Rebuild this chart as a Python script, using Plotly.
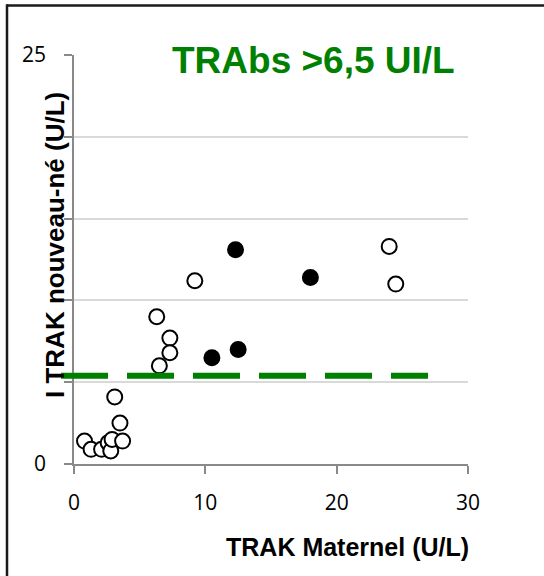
import plotly.graph_objects as go

# Data
x_open = [0.8, 1.3, 2.1, 2.6, 2.8, 2.9, 3.7, 3.5, 3.1, 6.3, 6.5, 7.3, 7.3, 9.2, 24.0, 24.5]
y_open = [1.4, 0.9, 0.9, 1.3, 0.8, 1.5, 1.4, 2.5, 4.1, 9.0, 6.0, 7.7, 6.8, 11.2, 13.3, 11.0]
x_filled = [10.5, 12.3, 12.5, 18.0]
y_filled = [6.5, 13.1, 7.0, 11.4]
seuil = 5.4
x_ticks = [0, 10, 20, 30]
y_ticks = [0, 5, 10, 15, 20, 25]
y_ticktext = ["0", "", "", "", "", "25"]

title_text = "TRAbs >6,5 UI/L"
x_title = "TRAK Maternel (U/L)"
y_title = "I TRAK nouveau-né (U/L)"

fig = go.Figure()
fig.add_trace(go.Scatter(
    x=x_open, y=y_open, mode="markers",
    marker=dict(size=15, color="white", line=dict(color="black", width=2)),
    showlegend=False, cliponaxis=False))
fig.add_trace(go.Scatter(
    x=x_filled, y=y_filled, mode="markers",
    marker=dict(size=15, color="black", line=dict(color="black", width=2)),
    showlegend=False, cliponaxis=False))

L, R, T, B = 74, 76, 55, 112
W, H = 544, 576
pw, ph = W - L - R, H - T - B

def px(xp):
    return (xp - L) / pw

def py(yp):
    return (H - B - yp) / ph

# threshold dashed line
fig.add_shape(type="line", xref="paper", yref="y",
              x0=px(61), x1=px(428), y0=seuil, y1=seuil,
              line=dict(color="#008000", width=6, dash="47px,19px"), layer="above")

# outer border (top and left edges only visible)
fig.add_shape(type="line", xref="paper", yref="paper",
              x0=px(7), x1=px(560), y0=py(5.5), y1=py(5.5),
              line=dict(color="#1a1a1a", width=2.5), layer="above")
fig.add_shape(type="line", xref="paper", yref="paper",
              x0=px(7), x1=px(7), y0=py(4.3), y1=py(600),
              line=dict(color="#1a1a1a", width=2.5), layer="above")

fig.add_annotation(text=title_text, xref="paper", yref="paper",
                   x=px(313), y=py(60), xanchor="center", yanchor="middle",
                   showarrow=False,
                   font=dict(family="Liberation Sans, Arial", size=37, color="#008000", weight="bold"))
fig.add_annotation(text=x_title, xref="paper", yref="paper",
                   x=px(347), y=py(547), xanchor="center", yanchor="middle",
                   showarrow=False,
                   font=dict(family="Liberation Sans, Arial", size=25, color="black", weight="bold"))
fig.add_annotation(text=y_title, xref="paper", yref="paper",
                   x=px(55), y=py(245), xanchor="center", yanchor="middle",
                   textangle=-90, showarrow=False,
                   font=dict(family="Liberation Sans, Arial", size=26, color="black", weight="bold"))

fig.update_layout(
    width=W, height=H,
    margin=dict(l=L, r=R, t=T, b=B),
    paper_bgcolor="white", plot_bgcolor="white",
    xaxis=dict(range=[0, 30], tickvals=x_ticks, showgrid=False, zeroline=False,
               showline=True, linecolor="#898989", linewidth=1.5,
               ticks="outside", ticklen=8, tickcolor="#898989", tickwidth=1.5,
               tickfont=dict(family="Open Sans", size=21, color="black"),
               ticklabelstandoff=11),
    yaxis=dict(range=[0, 25], tickvals=y_ticks, ticktext=y_ticktext,
               showgrid=True, gridcolor="#d9d9d9", gridwidth=1.5, zeroline=False,
               showline=True, linecolor="#898989", linewidth=1.5,
               ticks="outside", ticklen=8, tickcolor="#898989", tickwidth=1.5,
               tickfont=dict(family="Open Sans", size=21, color="black"),
               ticklabelstandoff=14),
)

fig.write_html("out.html")
